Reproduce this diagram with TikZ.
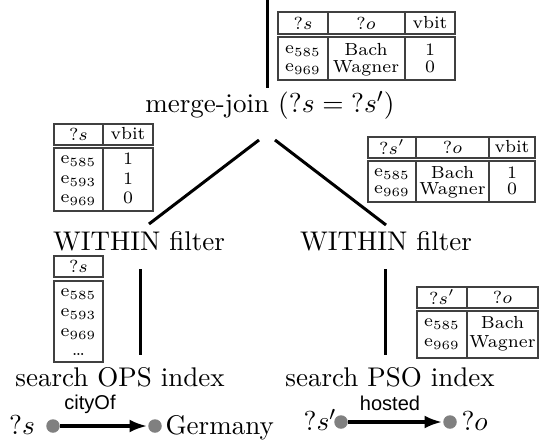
\documentclass[tikz,border=0pt]{standalone}
\usepackage{fontspec}
\newfontfamily\lblfont{Liberation Sans}
\usetikzlibrary{arrows.meta}
\begin{document}
\begin{tikzpicture}[x=0.4pt,y=-0.4pt,
  op/.style={inner sep=0pt, font=\fontsize{10.8}{12.5}\selectfont},
  cell/.style={inner sep=0pt, font=\fontsize{7}{8}\selectfont},
  tbl/.style={draw=black!75, line width=0.45pt},
  edge/.style={line width=1.2pt},
  dot/.style={circle, fill=black!50, inner sep=0pt, minimum size=5.4pt},
  arr/.style={line width=1.25pt, -{Latex[length=7pt,width=5.2pt]}, shorten >=0.3pt},
  lbl/.style={inner sep=0pt, font=\lblfont\fontsize{8}{9}\selectfont}
]
\useasboundingbox (0,0) rectangle (545,439);

% operators
\node[op] (mj) at (270,105) {merge-join $(?s = {?s'})$};
\node[op] (wl) at (139,241) {WITHIN filter};
\node[op] (wr) at (386,241) {WITHIN filter};
\node[op] (sl) at (120,377) {search OPS index};
\node[op] (sr) at (390,377) {search PSO index};

% connectors
\coordinate (top) at (267,0);
\coordinate (mjtop) at (267,88);
\coordinate (mjl) at (259,140);
\coordinate (wlt) at (149,224);
\coordinate (mjr) at (275,140);
\coordinate (wrt) at (386,225);
\coordinate (wlb) at (140,269);
\coordinate (slt) at (140,355);
\coordinate (wrb) at (385,269);
\coordinate (srt) at (385,355);
\draw[edge] (top) -- (mjtop);
\draw[edge] (mjl) -- (wlt);
\draw[edge] (mjr) -- (wrt);
\draw[edge] (wlb) -- (slt);
\draw[edge] (wrb) -- (srt);

% top table
\draw[tbl] (278,12) rectangle (455,34);
\draw[tbl] (278,37) rectangle (455,80);
\draw[tbl] (328,12) -- (328,34) (405,12) -- (405,34);
\draw[tbl] (328,37) -- (328,80) (405,37) -- (405,80);
\node[cell] (a11) at (303,23) {$?s$};
\node[cell] (a12) at (366,23) {$?o$};
\node[cell] (a13) at (430,23) {vbit};
\node[cell] (a21) at (303,51) {e$_{585}$};
\node[cell] (a22) at (366,50) {Bach};
\node[cell] (a23) at (430,50) {1};
\node[cell] (a31) at (303,69) {e$_{969}$};
\node[cell] (a32) at (366,68) {Wagner};
\node[cell] (a33) at (430,67) {0};

% left upper table
\draw[tbl] (54,124) rectangle (153,145);
\draw[tbl] (54,148) rectangle (153,211);
\draw[tbl] (103,124) -- (103,145) (103,148) -- (103,211);
\node[cell] (b11) at (78.5,134) {$?s$};
\node[cell] (b12) at (128,134) {vbit};
\node[cell] (b21) at (78.5,161) {e$_{585}$};
\node[cell] (b22) at (128,159) {1};
\node[cell] (b31) at (78.5,181) {e$_{593}$};
\node[cell] (b32) at (128,179) {1};
\node[cell] (b41) at (78.5,200) {e$_{969}$};
\node[cell] (b42) at (128,198) {0};

% right upper table
\draw[tbl] (368,137) rectangle (535,158);
\draw[tbl] (368,161) rectangle (535,202);
\draw[tbl] (416,137) -- (416,158) (489,137) -- (489,158);
\draw[tbl] (416,161) -- (416,202) (489,161) -- (489,202);
\node[cell] (c11) at (392,147) {$?s'$};
\node[cell] (c12) at (452.5,147) {$?o$};
\node[cell] (c13) at (512,147) {vbit};
\node[cell] (c21) at (392,174) {e$_{585}$};
\node[cell] (c22) at (452.5,173) {Bach};
\node[cell] (c23) at (512,173) {1};
\node[cell] (c31) at (392,191) {e$_{969}$};
\node[cell] (c32) at (452.5,190) {Wagner};
\node[cell] (c33) at (512,189) {0};

% left lower table
\draw[tbl] (54,256) rectangle (103,277);
\draw[tbl] (54,281) rectangle (103,362);
\node[cell] (d11) at (78.5,266) {$?s$};
\node[cell] (d21) at (78.5,294) {e$_{585}$};
\node[cell] (d31) at (78.5,314) {e$_{593}$};
\node[cell] (d41) at (78.5,334) {e$_{969}$};
\node[cell] (d51) at (78.5,354) {\dots};

% right lower table
\draw[tbl] (417,287) rectangle (538,308);
\draw[tbl] (417,311) rectangle (538,358);
\draw[tbl] (467,287) -- (467,308) (467,311) -- (467,358);
\node[cell] (e11) at (442,297) {$?s'$};
\node[cell] (e12) at (502.5,297) {$?o$};
\node[cell] (e21) at (442,324) {e$_{585}$};
\node[cell] (e22) at (502.5,323) {Bach};
\node[cell] (e31) at (442,344) {e$_{969}$};
\node[cell] (e32) at (502.5,343) {Wagner};

% bottom left pattern
\node[op, anchor=base] (vs) at (22,434) {$?s$};
\node[dot] (p1) at (53,426) {};
\node[dot] (p2) at (155,426) {};
\node[op, anchor=base west] (ger) at (165,434) {Germany};
\draw[arr] (p1) -- (p2);
\node[lbl] (l1) at (90,404) {cityOf};

% bottom right pattern
\node[op, anchor=base] (vs2) at (320,430) {$?s'$};
\node[dot] (p3) at (341,422) {};
\node[dot] (p4) at (450,422) {};
\node[op, anchor=base west] (vo) at (461,430) {$?o$};
\draw[arr] (p3) -- (p4);
\node[lbl] (l2) at (390,403) {hosted};
\end{tikzpicture}
\end{document}
